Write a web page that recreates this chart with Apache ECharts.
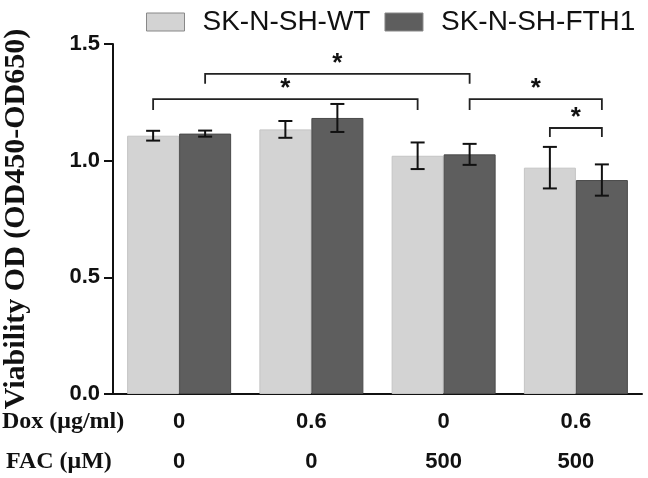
<!DOCTYPE html>
<html>
<head>
<meta charset="utf-8">
<script src="https://cdn.jsdelivr.net/npm/echarts@6/dist/echarts.min.js"></script>
<style>html,body{margin:0;padding:0;background:#fff}#c{width:648px;height:478px}</style>
</head>
<body>
<div id="c"></div>
<script>
// ---- data ----
var doxLabels = ['0', '0.6', '0', '0.6'];
var facLabels = ['0', '0', '500', '500'];
var seriesNames = ['SK-N-SH-WT', 'SK-N-SH-FTH1'];
var wtMean = [1.107, 1.134, 1.021, 0.970];
var wtErr  = [0.021, 0.036, 0.057, 0.089];
var fthMean = [1.116, 1.183, 1.027, 0.917];
var fthErr  = [0.013, 0.060, 0.045, 0.067];
var yTicks = [0, 0.5, 1.0, 1.5];
// significance brackets: [fromCategory, fromSeries, toCategory, toSeries, lineValue, legEndValue]
var bracketFrom = [[0, 1], [0, 0], [2, 1], [3, 0]];
var bracketTo   = [[2, 1], [2, 0], [3, 1], [3, 1]];
var bracketLine = [1.372, 1.264, 1.264, 1.140];
var bracketLeg  = [1.330, 1.217, 1.217, 1.101];
var bracketMark = ['*', '*', '*', '*'];

// ---- build ----
var BAR_W = 52;
var colors = ['#d3d3d3', '#5e5e5e'];
var categories = doxLabels.map(function (d, i) { return i; });

function errData(mean, err) {
  return mean.map(function (m, i) { return [i, m - err[i], m + err[i]]; });
}
function sideOffset(s) { return s === 0 ? -BAR_W / 2 : BAR_W / 2; }

function errRender(s) {
  return function (params, api) {
    var c = api.value(0);
    var lo = api.coord([c, api.value(1)]);
    var hi = api.coord([c, api.value(2)]);
    var x = lo[0] + sideOffset(s);
    var cap = 7;
    var st = { stroke: '#111', lineWidth: 2 };
    return {
      type: 'group',
      children: [
        { type: 'line', shape: { x1: x, y1: lo[1], x2: x, y2: hi[1] }, style: st },
        { type: 'line', shape: { x1: x - cap, y1: lo[1], x2: x + cap, y2: lo[1] }, style: st },
        { type: 'line', shape: { x1: x - cap, y1: hi[1], x2: x + cap, y2: hi[1] }, style: st }
      ]
    };
  };
}

var bracketData = bracketFrom.map(function (f, i) {
  return [f[0], f[1], bracketTo[i][0], bracketTo[i][1], bracketLine[i], bracketLeg[i], i];
});

function bracketRender(params, api) {
  var a = api.coord([api.value(0), api.value(4)]);
  var b = api.coord([api.value(2), api.value(4)]);
  var leg = api.coord([api.value(0), api.value(5)])[1];
  var x1 = a[0] + sideOffset(api.value(1));
  var x2 = b[0] + sideOffset(api.value(3));
  var y = a[1];
  var st = { stroke: '#222', lineWidth: 1.8, fill: null };
  return {
    type: 'group',
    children: [
      { type: 'polyline', shape: { points: [[x1, leg], [x1, y], [x2, y], [x2, leg]] }, style: st },
      { type: 'text', style: { text: bracketMark[api.value(6)], x: (x1 + x2) / 2, y: y - 10,
        fill: '#111', font: 'bold 26px "Liberation Sans", Arial, sans-serif',
        align: 'center', verticalAlign: 'middle' } }
    ]
  };
}

var chart = echarts.init(document.getElementById('c'), null, { renderer: 'canvas' });
chart.setOption({
  animation: false,
  backgroundColor: '#fff',
  legend: {
    top: 3, left: 141, icon: 'rect',
    itemWidth: 38, itemHeight: 18, itemGap: 14,
    data: seriesNames,
    textStyle: { fontSize: 28, color: '#111', fontFamily: '"Liberation Sans", Arial, sans-serif', padding: [0, 0, 0, 13] },
    itemStyle: { borderColor: '#888', borderWidth: 1 }
  },
  grid: { left: 113, right: 6, top: 44, bottom: 84, containLabel: false, outerBoundsMode: 'none' },
  xAxis: {
    type: 'category',
    data: categories,
    axisLine: { lineStyle: { color: '#111', width: 2 } },
    axisTick: { alignWithLabel: true, length: 6, lineStyle: { color: '#111', width: 2 } },
    axisLabel: {
      margin: 8,
      formatter: function (v, i) { return '{a|' + doxLabels[i] + '}\n{b|' + facLabels[i] + '}'; },
      rich: {
        a: { fontSize: 22, fontWeight: 'bold', color: '#111', lineHeight: 40, fontFamily: '"Liberation Sans", Arial, sans-serif' },
        b: { fontSize: 22, fontWeight: 'bold', color: '#111', lineHeight: 40, fontFamily: '"Liberation Sans", Arial, sans-serif' }
      }
    }
  },
  yAxis: {
    type: 'value', min: 0, max: 1.5, interval: 0.5,
    name: 'Viability OD (OD450-OD650)',
    nameLocation: 'middle', nameGap: 82,
    nameTextStyle: { fontSize: 30, fontWeight: 'bold', color: '#111', fontFamily: '"Liberation Serif", "Times New Roman", serif' },
    axisLine: { show: true, lineStyle: { color: '#111', width: 2 } },
    axisTick: { show: true, length: 9, lineStyle: { color: '#111', width: 2 } },
    axisLabel: {
      margin: 13, fontSize: 22, fontWeight: 'bold', color: '#111', fontFamily: '"Liberation Sans", Arial, sans-serif',
      formatter: function (v) { return v.toFixed(1); }
    },
    splitLine: { show: false }
  },
  graphic: [
    { type: 'text', left: 2, top: 410, style: { text: 'Dox (\u03bcg/ml)', fill: '#111', font: 'bold 24px "Liberation Serif", "Times New Roman", serif' } },
    { type: 'text', left: 6, top: 450, style: { text: 'FAC (\u03bcM)', fill: '#111', font: 'bold 24px "Liberation Serif", "Times New Roman", serif' } }
  ],
  series: [
    { name: seriesNames[0], type: 'bar', data: wtMean, barWidth: BAR_W, barGap: '0%',
      itemStyle: { color: colors[0], borderColor: '#c4c4c4', borderWidth: 1 } },
    { name: seriesNames[1], type: 'bar', data: fthMean, barWidth: BAR_W, barGap: '0%',
      itemStyle: { color: colors[1], borderColor: '#4a4a4a', borderWidth: 1 } },
    { type: 'custom', renderItem: errRender(0), data: errData(wtMean, wtErr), z: 10, silent: true },
    { type: 'custom', renderItem: errRender(1), data: errData(fthMean, fthErr), z: 10, silent: true },
    { type: 'custom', renderItem: bracketRender, data: bracketData, z: 10, silent: true,
      encode: { x: [0, 2], y: [4, 5] } }
  ]
});
</script>
</body>
</html>
